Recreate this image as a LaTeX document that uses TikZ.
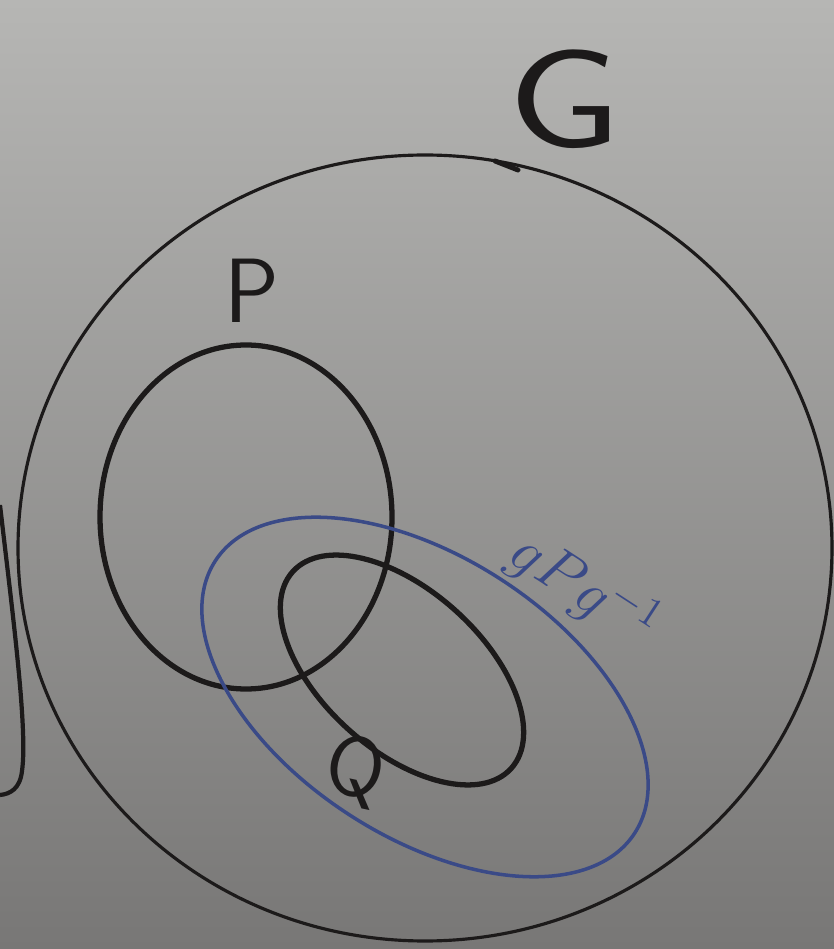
\documentclass[tikz,border=0pt]{standalone}
\usepackage{tikz}
\usetikzlibrary{positioning}
\definecolor{boardtop}{RGB}{182,182,180}
\definecolor{boardbot}{RGB}{120,119,118}
\definecolor{pen}{RGB}{28,26,26}
\definecolor{bluepen}{RGB}{58,74,135}
\tikzset{
  outline/.style={draw=pen, line width=0.9pt},
  setline/.style={draw=pen, line width=1.5pt},
  conjline/.style={draw=bluepen, line width=1pt},
  setlabel/.style={text=pen, font=\sffamily}
}
\begin{document}
\begin{tikzpicture}
\shade[top color=boardtop, bottom color=boardbot] (0,0) rectangle (8.34,9.49);
\useasboundingbox (0,0) rectangle (8.34,9.49);
% leftover stroke at the edge
\draw[outline, line width=1.2pt] (0,4.44) .. controls (0.12,3.4) and (0.28,2.2) .. (0.22,1.78) .. controls (0.2,1.6) and (0.1,1.55) .. (0,1.54);
% the group G
\draw[outline] (4.25,4.01) ellipse [x radius=4.07cm, y radius=3.93cm];
\draw[outline, line width=1.4pt, line cap=round] (4.95,7.88) -- (5.18,7.79);
\node[setlabel, font=\sffamily\fontsize{40}{40}\selectfont, xscale=1.3] (G) at (5.65,8.5) {G};
% subgroups P and Q
\draw[setline] (2.46,4.32) ellipse [x radius=1.46cm, y radius=1.72cm];
\node[setlabel, font=\sffamily\fontsize{26}{26}\selectfont] (P) at (2.52,6.58) {P};
\draw[setline, rotate around={-42:(4.02,2.79)}] (4.02,2.79) ellipse [x radius=1.47cm, y radius=0.80cm];
\node[setlabel, rotate=-12, font=\sffamily\fontsize{24}{24}\selectfont] (Q) at (3.55,1.78) {Q};
% conjugate of P
\draw[conjline, rotate around={-33:(4.25,2.52)}] (4.25,2.52) ellipse [x radius=2.5cm, y radius=1.4cm];
\node[text=bluepen, rotate=-33, font=\fontsize{18}{18}\selectfont] (gP) at (5.84,3.6) {$gPg^{-1}$};
\end{tikzpicture}
\end{document}
